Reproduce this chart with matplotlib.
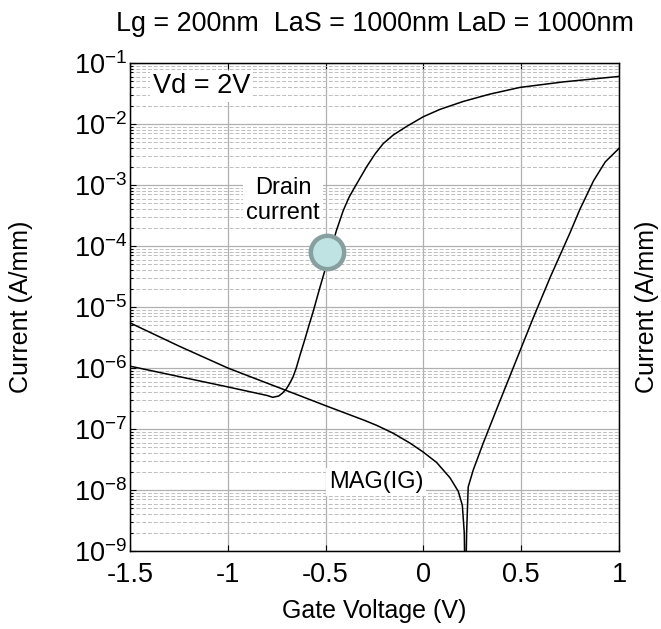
import numpy as np
import matplotlib
matplotlib.use("Agg")
import matplotlib.pyplot as plt
from matplotlib.ticker import LogLocator, NullFormatter

plt.rcParams["font.family"] = ["Liberation Sans", "DejaVu Sans"]
plt.rcParams["mathtext.fontset"] = "custom"
plt.rcParams["mathtext.rm"] = "Liberation Sans"
plt.rcParams["mathtext.it"] = "Liberation Sans"

# ---------- DATA (log10 of A/mm) ----------
vg_drain = [-1.5, -1.25, -1.0, -0.9, -0.8, -0.77, -0.74, -0.72, -0.70, -0.685, -0.667,
            -0.65, -0.63, -0.605, -0.585, -0.564, -0.53, -0.5, -0.47, -0.445, -0.41,
            -0.38, -0.35, -0.29, -0.247, -0.205, -0.154, -0.086, -0.043, 0.0, 0.085,
            0.204, 0.34, 0.494, 0.715, 1.0]
log_drain = [-5.97, -6.14, -6.31, -6.38, -6.45, -6.48, -6.46, -6.41, -6.34, -6.26, -6.15,
             -6.00, -5.78, -5.52, -5.30, -5.08, -4.69, -4.36, -4.03, -3.75, -3.42,
             -3.20, -3.03, -2.70, -2.49, -2.32, -2.18, -2.04, -1.96, -1.88, -1.76,
             -1.63, -1.51, -1.40, -1.31, -1.22]

vg_gate = [-1.5, -1.25, -1.0, -0.887, -0.708, -0.498, -0.3, -0.239, -0.154, -0.069, 0.0,
           0.068, 0.136, 0.178, 0.199, 0.209, 0.213, 0.216, 0.221, 0.229, 0.255, 0.306,
           0.39, 0.48, 0.56, 0.65, 0.75, 0.80, 0.87, 0.93, 1.0]
log_gate = [-5.26, -5.64, -6.00, -6.14, -6.36, -6.62, -6.86, -6.94, -7.07, -7.23, -7.38,
            -7.55, -7.80, -8.02, -8.25, -8.70, -9.60, -9.60, -8.70, -7.95, -7.67, -7.23,
            -6.55, -5.83, -5.19, -4.50, -3.78, -3.40, -2.93, -2.62, -2.40]

marker_v = [-0.493]
marker_log = [-4.1]

title = "Lg = 200nm  LaS = 1000nm LaD = 1000nm"
xticks = [-1.5, -1, -0.5, 0, 0.5, 1]
xticklabels = ["-1.5", "-1", "-0.5", "0", "0.5", "1"]
# ------------------------------------------------------------------

fig = plt.figure(figsize=(6.61, 6.29), dpi=100)
# axes box: x 130..619 px, y 63..551 px
ax = fig.add_axes([130 / 661, 78 / 629, 489 / 661, 488 / 629])

ax.plot(vg_drain, np.power(10.0, log_drain), color="black", lw=1.1, zorder=3)
ax.plot(vg_gate, np.power(10.0, log_gate), color="black", lw=1.1, zorder=3)
ax.plot(marker_v, np.power(10.0, marker_log), "o", ms=24, mfc="#bfe3e3",
        mec="#879f9f", mew=3.2, zorder=4)

ax.set_yscale("log")
ax.set_xlim(-1.5, 1)
ax.set_ylim(1e-9, 1e-1)
ax.set_xticks(xticks)
ax.set_xticklabels(xticklabels)
ax.yaxis.set_major_locator(LogLocator(base=10, numticks=20))
ax.yaxis.set_minor_locator(LogLocator(base=10, subs=np.arange(2, 10), numticks=20))
ax.yaxis.set_minor_formatter(NullFormatter())

ax.grid(True, which="major", color="#b0b0b0", lw=0.9, ls="-")
ax.grid(True, which="minor", axis="y", color="#bdbdbd", lw=0.7, ls=(0, (4, 2)))
ax.set_axisbelow(True)

ax.tick_params(which="both", direction="in", top=True, right=True,
               labelsize=19.5, length=4, width=0.8)
ax.tick_params(which="minor", length=2)
ax.tick_params(axis="x", pad=8)
ax.tick_params(axis="y", pad=2)
for s in ax.spines.values():
    s.set_linewidth(1.0)

ax.set_xlabel("Gate Voltage (V)", fontsize=18)
ax.xaxis.set_label_coords(0.5, -0.099)
ax.set_ylabel("Current (A/mm)", fontsize=18)
ax.yaxis.set_label_coords(-0.198, 0.5)
ax.set_title(title, fontsize=19.4, pad=23)

ax2 = ax.twinx()
ax2.set_yscale("log")
ax2.set_ylim(1e-9, 1e-1)
ax2.tick_params(which="both", right=False, labelright=False)
ax2.set_ylabel("Current (A/mm)", fontsize=18)
ax2.yaxis.set_label_coords(1.033, 0.5)

box = dict(facecolor="white", edgecolor="none", pad=2)
ax.text(-1.135, 10 ** -1.385, "Vd = 2V", fontsize=19.5, ha="center", va="center", bbox=box, zorder=5)
ax.text(-0.718, 10 ** -3.25, "Drain\ncurrent", fontsize=17, ha="center", va="center",
        bbox=box, linespacing=1.15, zorder=5)
ax.text(-0.242, 10 ** -7.87, "MAG(IG)", fontsize=17, ha="center", va="center", bbox=box, zorder=5)

fig.savefig("out.png", dpi=100)
